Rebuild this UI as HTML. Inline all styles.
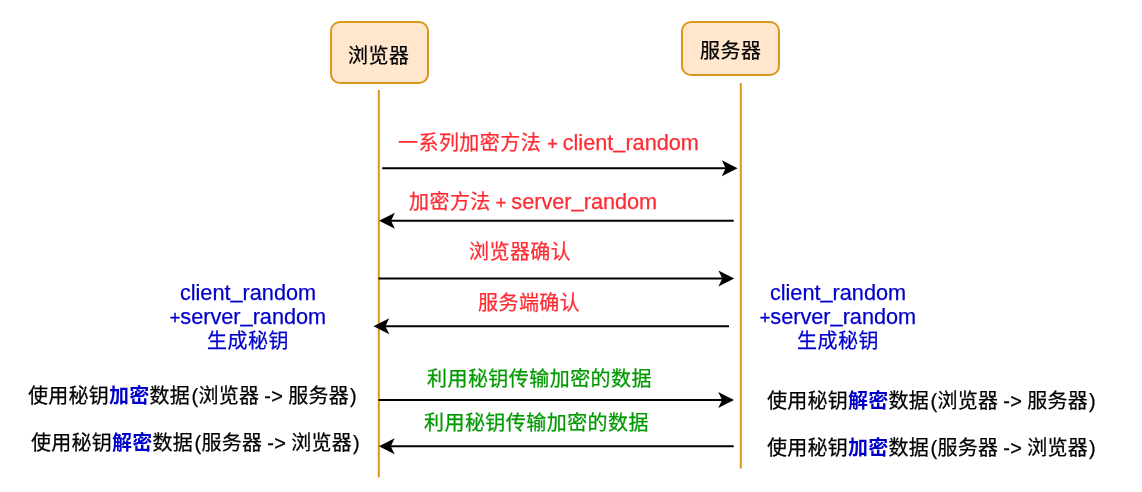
<!DOCTYPE html>
<html lang="zh-CN">
<head>
<meta charset="utf-8">
<title>浏览器与服务器握手流程</title>
<style>
html,body{margin:0;padding:0;background:#fff;}
body{width:1142px;height:492px;position:relative;overflow:hidden;font-family:"Liberation Sans","Noto Sans CJK SC",sans-serif;}
svg{position:absolute;left:0;top:0;}
.t{position:absolute;white-space:nowrap;font-size:20px;line-height:24px;height:24px;color:#000;letter-spacing:0.45px;will-change:transform;-webkit-text-stroke:0.25px currentColor;}
.l{font-size:21.7px;letter-spacing:0;position:relative;top:0px;}
.pl{font-size:18px;letter-spacing:0;position:relative;top:-0.5px;-webkit-text-stroke:0.4px currentColor;}
.u{position:relative;top:-1.8px;}
.s{letter-spacing:0.25px;word-spacing:-0.7px;}
.p1{margin-left:1.5px;}
.p2{margin-left:0.9px;}
.c{transform:translateX(-50%);text-align:center;}
.red{color:#ff2b33;}
.green{color:#009900;}
.blue{color:#0000cc;}
.b{font-weight:bold;color:#0000cc;-webkit-text-stroke:0;}
</style>
</head>
<body>
<svg width="1142" height="492" viewBox="0 0 1142 492">
  <!-- lifelines -->
  <line x1="378.8" y1="90" x2="378.8" y2="477.5" stroke="#d7981c" stroke-width="2"/>
  <line x1="740.8" y1="83" x2="740.8" y2="468.5" stroke="#d7981c" stroke-width="2"/>
  <!-- boxes -->
  <rect x="331" y="22" width="97" height="61" rx="9" ry="9" fill="#ffe6cc" stroke="#d7981c" stroke-width="2"/>
  <rect x="682" y="22" width="97" height="53" rx="9" ry="9" fill="#ffe6cc" stroke="#d7981c" stroke-width="2"/>
  <!-- arrows -->
  <g>
    <line x1="382.2" y1="168.2" x2="726.2" y2="168.2" stroke="#000" stroke-width="2"/>
    <polygon points="737.6,168.2 721.8,160.2 725.7,168.2 721.8,176.2" fill="#000"/>
    <line x1="733.7" y1="220.8" x2="390.5" y2="220.8" stroke="#000" stroke-width="2"/>
    <polygon points="379.1,220.8 394.9,212.8 391.0,220.8 394.9,228.8" fill="#000"/>
    <line x1="378.5" y1="278.4" x2="722.8" y2="278.4" stroke="#000" stroke-width="2"/>
    <polygon points="734.2,278.4 718.4,270.4 722.3,278.4 718.4,286.4" fill="#000"/>
    <line x1="729.0" y1="326.2" x2="384.9" y2="326.2" stroke="#000" stroke-width="2"/>
    <polygon points="373.5,326.2 389.3,318.2 385.4,326.2 389.3,334.2" fill="#000"/>
    <line x1="378.5" y1="400.1" x2="722.6" y2="400.1" stroke="#000" stroke-width="2"/>
    <polygon points="734.0,400.1 718.2,392.1 722.1,400.1 718.2,408.1" fill="#000"/>
    <line x1="733.7" y1="446.2" x2="390.3" y2="446.2" stroke="#000" stroke-width="2"/>
    <polygon points="378.9,446.2 394.7,438.2 390.8,446.2 394.7,454.2" fill="#000"/>
  </g>
</svg>

<div class="t" style="left:348.1px;top:43.8px;">浏览器</div>
<div class="t" style="left:700px;top:39.1px;">服务器</div>

<div class="t red" style="left:398.3px;top:131px;">一系列加密方法<span class="pl" style="margin-left:1px"> + </span><span class="l">client<span class="u">_</span>random</span></div>
<div class="t red" style="left:408.6px;top:190px;">加密方法<span class="pl"> + </span><span class="l">server<span class="u">_</span>random</span></div>
<div class="t red" style="left:469px;top:240px;">浏览器确认</div>
<div class="t red" style="left:477.8px;top:290.5px;">服务端确认</div>

<div class="t green" style="left:427px;top:366.5px;">利用秘钥传输加密的数据</div>
<div class="t green" style="left:424.4px;top:410.5px;">利用秘钥传输加密的数据</div>

<div class="t blue c" style="left:247.6px;top:281.3px;"><span class="l">client<span class="u">_</span>random</span></div>
<div class="t blue c" style="left:247.6px;top:304.9px;"><span class="pl">+</span><span class="l">server<span class="u">_</span>random</span></div>
<div class="t blue c" style="left:247.6px;top:328.5px;">生成秘钥</div>

<div class="t blue c" style="left:837.6px;top:281.3px;"><span class="l">client<span class="u">_</span>random</span></div>
<div class="t blue c" style="left:837.6px;top:304.9px;"><span class="pl">+</span><span class="l">server<span class="u">_</span>random</span></div>
<div class="t blue c" style="left:837.6px;top:328.5px;">生成秘钥</div>

<div class="t s" style="left:27.5px;top:383.9px;">使用秘钥<span class="b">加密</span>数据<span class="p1">(</span>浏览器 -&gt; 服务器<span class="p2">)</span></div>
<div class="t s" style="left:31.3px;top:431px;">使用秘钥<span class="b">解密</span>数据<span class="p1">(</span>服务器 -&gt; 浏览器<span class="p2">)</span></div>
<div class="t s" style="left:767.1px;top:388.5px;">使用秘钥<span class="b">解密</span>数据<span class="p1">(</span>浏览器 -&gt; 服务器<span class="p2">)</span></div>
<div class="t s" style="left:767.1px;top:435.5px;">使用秘钥<span class="b">加密</span>数据<span class="p1">(</span>服务器 -&gt; 浏览器<span class="p2">)</span></div>
</body>
</html>
